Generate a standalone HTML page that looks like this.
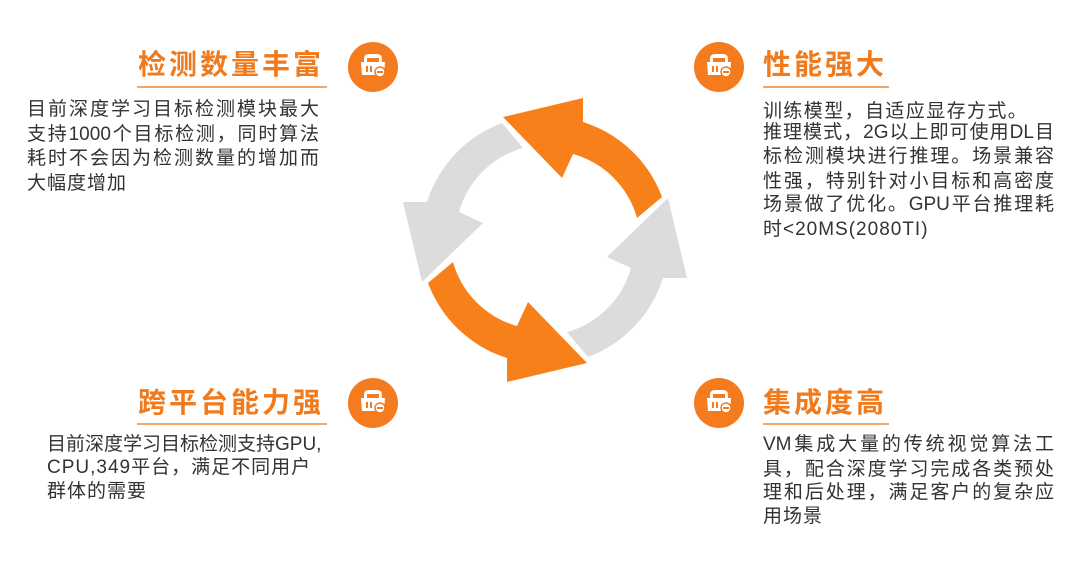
<!DOCTYPE html>
<html><head><meta charset="utf-8"><style>
html,body{margin:0;padding:0;background:#fff;}
#c{position:relative;width:1080px;height:576px;overflow:hidden;font-family:"Liberation Sans","Noto Sans CJK SC",sans-serif;}
.t{position:absolute;font-size:28px;font-weight:bold;color:#f07a1c;letter-spacing:3px;line-height:34px;white-space:nowrap;}
.u{position:absolute;height:2px;background:#f3a56a;}
.l{position:absolute;font-size:19px;color:#333;line-height:24px;height:24px;white-space:nowrap;}
.j{text-align:justify;text-align-last:justify;}
svg{position:absolute;left:0;top:0;}
</style></head><body><div id="c">
<svg width="1080" height="576" viewBox="0 0 1080 576">
<defs>
<path id="ar" d="M117,-43 A124,124 0 0 0 38,-118 L38,-142 L-42,-123 L17,-62 L28,-86 A92,92 0 0 1 92,-22 Z"/>
<g id="ic"><circle r="25" fill="#f47b1e"/>
<path d="M-9,-8 Q-9,-13 -4,-13 L4,-13 Q9,-13 9,-8 L9,-5 L12,-5 L11,8 L-11,8 L-12,-5 L-9,-5 Z M-6,-9 L6,-9 L6,-5 L-6,-5 Z" fill="#fff" fill-rule="evenodd"/>
<rect x="-7" y="-1" width="2" height="6" fill="#f47b1e"/><rect x="-3" y="-1" width="2" height="6" fill="#f47b1e"/>
<circle cx="7" cy="5" r="5" fill="#fff" stroke="#f47b1e" stroke-width="1.5"/><rect x="4" y="4" width="6" height="2" fill="#f47b1e"/>
</g>
</defs>
<g transform="translate(545,240)">
<use href="#ar" fill="#f7801a"/>
<use href="#ar" fill="#dcdcdc" transform="rotate(-90)"/>
<use href="#ar" fill="#f7801a" transform="rotate(180)"/>
<use href="#ar" fill="#dcdcdc" transform="rotate(90)"/>
</g>
<use href="#ic" transform="translate(373,67)"/>
<use href="#ic" transform="translate(719,67)"/>
<use href="#ic" transform="translate(373,403)"/>
<use href="#ic" transform="translate(719,403)"/>
</svg>

<div class="t" style="left:138px;top:48px;">检测数量丰富</div>
<div class="u" style="left:137px;top:86px;width:190px;"></div>
<div class="l j" style="left:27px;top:98px;width:292px;">目前深度学习目标检测模块最大</div>
<div class="l j" style="left:27px;top:123px;width:292px;">支持1000个目标检测，同时算法</div>
<div class="l j" style="left:27px;top:147px;width:292px;">耗时不会因为检测数量的增加而</div>
<div class="l" style="left:27px;top:172px;letter-spacing:1px;">大幅度增加</div>

<div class="t" style="left:763px;top:48px;">性能强大</div>
<div class="u" style="left:763px;top:86px;width:126px;"></div>
<div class="l" style="left:763px;top:100px;letter-spacing:1.4px;">训练模型，自适应显存方式。</div>
<div class="l j" style="left:763px;top:121px;width:291px;">推理模式，2G以上即可使用DL目</div>
<div class="l j" style="left:763px;top:145px;width:291px;">标检测模块进行推理。场景兼容</div>
<div class="l j" style="left:763px;top:170px;width:291px;">性强，特别针对小目标和高密度</div>
<div class="l j" style="left:763px;top:193px;width:291px;">场景做了优化。GPU平台推理耗</div>
<div class="l" style="left:763px;top:218px;letter-spacing:1px;">时&lt;20MS(2080TI)</div>

<div class="t" style="left:138px;top:386px;">跨平台能力强</div>
<div class="u" style="left:137px;top:423px;width:190px;"></div>
<div class="l j" style="left:47px;top:433px;width:274px;">目前深度学习目标检测支持GPU,</div>
<div class="l" style="left:47px;top:456px;letter-spacing:1px;">CPU,349平台，满足不同用户</div>
<div class="l" style="left:47px;top:480px;letter-spacing:1px;">群体的需要</div>

<div class="t" style="left:763px;top:386px;">集成度高</div>
<div class="u" style="left:763px;top:423px;width:126px;"></div>
<div class="l j" style="left:763px;top:433px;width:291px;">VM集成大量的传统视觉算法工</div>
<div class="l j" style="left:763px;top:458px;width:291px;">具，配合深度学习完成各类预处</div>
<div class="l j" style="left:763px;top:481px;width:291px;">理和后处理，满足客户的复杂应</div>
<div class="l" style="left:763px;top:505px;letter-spacing:1px;">用场景</div>
</div></body></html>
